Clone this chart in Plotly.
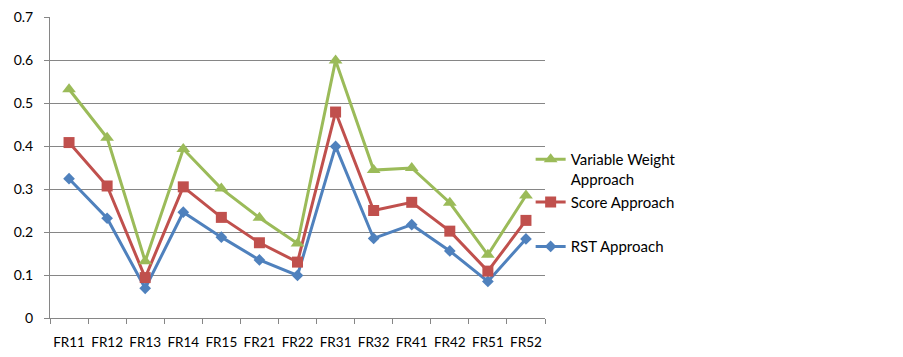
import plotly.graph_objects as go

categories = ["FR11", "FR12", "FR13", "FR14", "FR15", "FR21", "FR22",
              "FR31", "FR32", "FR41", "FR42", "FR51", "FR52"]
variable_weight = [0.532, 0.419, 0.132, 0.393, 0.301, 0.233, 0.173,
                   0.599, 0.344, 0.349, 0.268, 0.147, 0.285]
score = [0.408, 0.307, 0.094, 0.305, 0.234, 0.175, 0.130,
         0.479, 0.250, 0.269, 0.202, 0.109, 0.227]
rst = [0.324, 0.232, 0.069, 0.246, 0.188, 0.135, 0.099,
       0.399, 0.185, 0.217, 0.156, 0.085, 0.184]
y_ticks = [0, 0.1, 0.2, 0.3, 0.4, 0.5, 0.6, 0.7]
y_tick_text = ["0", "0.1", "0.2", "0.3", "0.4", "0.5", "0.6", "0.7"]

FONT = "Lato"
GREEN, RED, BLUE = "#9BBB59", "#C0504D", "#4F81BD"

fig = go.Figure()
fig.add_trace(go.Scatter(x=categories, y=rst, name="RST Approach",
                         mode="lines+markers", legend="legend3",
                         line=dict(color=BLUE, width=3),
                         marker=dict(symbol="diamond", size=9, color=BLUE)))
fig.add_trace(go.Scatter(x=categories, y=score, name="Score Approach",
                         mode="lines+markers", legend="legend2",
                         line=dict(color=RED, width=3),
                         marker=dict(symbol="square", size=11, color=RED)))
fig.add_trace(go.Scatter(x=categories, y=variable_weight,
                         name="Variable Weight<br>Approach",
                         mode="lines+markers", legend="legend",
                         line=dict(color=GREEN, width=3),
                         marker=dict(symbol="triangle-up", size=12, color=GREEN)))

# the page body adds an 8px offset; the figure is sized to compensate
FIG_H, M_T, M_B = 349, 9, 39
PLOT_BOTTOM_ABS = 8 + FIG_H - M_B
PLOT_H = FIG_H - M_T - M_B
leg_common = dict(xanchor="left", yanchor="middle", x=0.971,
                  bgcolor="rgba(0,0,0,0)", valign="top",
                  font=dict(family=FONT, size=15, color="#000000"))

fig.update_layout(
    width=895, height=FIG_H,
    margin=dict(l=42, r=358, t=M_T, b=M_B),
    paper_bgcolor="white", plot_bgcolor="white",
    font=dict(family=FONT, size=14, color="#000000"),
    showlegend=True,
    legend=dict(**leg_common, y=(PLOT_BOTTOM_ABS - 169) / PLOT_H),
    legend2=dict(**leg_common, y=(PLOT_BOTTOM_ABS - 202.3) / PLOT_H),
    legend3=dict(**leg_common, y=(PLOT_BOTTOM_ABS - 246.7) / PLOT_H),
    xaxis=dict(type="category", tickson="boundaries", ticks="outside",
               range=[-0.5, len(categories) - 0.5],
               ticklen=5, tickcolor="#868686", showline=True,
               linecolor="#868686", linewidth=1, showgrid=False,
               ticklabelstandoff=12, zeroline=False, tickangle=0,
               automargin=False, tickfont=dict(family=FONT, size=13.5)),
    yaxis=dict(range=[0, 0.7], tickvals=y_ticks, ticktext=y_tick_text,
               ticks="outside", ticklen=5, tickcolor="#868686",
               showline=True, linecolor="#868686", linewidth=1,
               showgrid=True, gridcolor="#868686", gridwidth=1,
               zeroline=False, ticklabelstandoff=8, automargin=False,
               ticklabeloverflow="allow"),
)

fig.write_html("out.html")
